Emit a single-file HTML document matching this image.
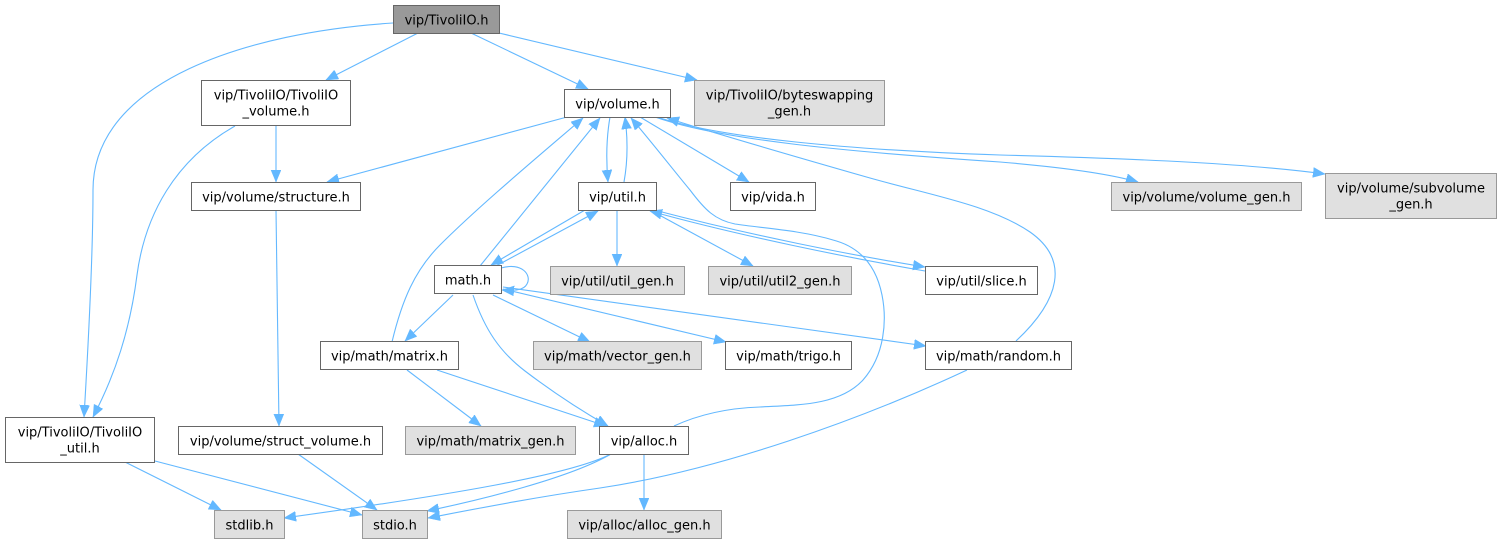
<!DOCTYPE html>
<html>
<head>
<meta charset="utf-8">
<style>
html,body{margin:0;padding:0;background:#fff;}
svg{display:block;}
text{font-family:"DejaVu Sans","Liberation Sans",sans-serif;font-size:13px;fill:#000;text-anchor:middle;}
.n{fill:#fff;stroke:#666;stroke-width:1;}
.g{fill:#e0e0e0;stroke:#999;stroke-width:1;}
.r{fill:#999;stroke:#666;stroke-width:1;}
.e{fill:none;stroke:#63b8ff;stroke-width:1.1;marker-end:url(#ah);}
</style>
</head>
<body>
<svg width="1501" height="543" viewBox="0 0 1501 543" xmlns="http://www.w3.org/2000/svg">
<defs>
<marker id="ah" markerUnits="userSpaceOnUse" markerWidth="14" markerHeight="12" refX="12" refY="5" orient="auto">
<path d="M0,0 L12,5 L0,10 z" fill="#63b8ff" stroke="#63b8ff" stroke-width="0.5"/>
</marker>
</defs>
<rect x="0" y="0" width="1501" height="543" fill="#fff"/>

<!-- edges -->
<path class="e" d="M418,33 L326,80"/>
<path class="e" d="M393,23 C250,32 93,80 93,190 C93,260 88,350 84,417"/>
<path class="e" d="M471,33 L588,89"/>
<path class="e" d="M499,33 L697,80"/>
<path class="e" d="M276,126 L276,182"/>
<path class="e" d="M235,126 C175,160 145,215 137,275 C130,330 115,375 93,417"/>
<path class="e" d="M276,210 L279,426"/>
<path class="e" d="M298,454 L377,510"/>
<path class="e" d="M125,462 L221,510"/>
<path class="e" d="M155,461 L362,515"/>
<path class="e" d="M567,117 L327,182"/>
<path class="e" d="M610,117 C606,140 606,160 608,182"/>
<path class="e" d="M624,182 C628,160 628,140 625,117"/>
<path class="e" d="M640,117 L749,182"/>
<path class="e" d="M655,117 C720,140 850,152 1000,162 C1060,167 1110,174 1138,182"/>
<path class="e" d="M657,117 C720,138 850,150 1000,155 C1150,159 1250,164 1325,174"/>
<path class="e" d="M1016,341 C1060,300 1070,260 1030,232 C990,205 930,195 870,178 C800,158 720,135 667,118"/>
<path class="e" d="M674,426 C700,414 730,408 760,407 C800,405 840,405 863,380 C885,355 887,320 882,295 C876,265 860,247 833,240 C800,230 760,228 735,224 C715,220 705,210 690,190 C675,172 650,140 631,118"/>
<path class="e" d="M392,342 C402,300 415,270 440,245 C480,205 540,155 583,118"/>
<path class="e" d="M480,266 L600,118"/>
<path class="e" d="M585,210 L491,265"/>
<path class="e" d="M496,266 L598,211"/>
<path class="e" d="M501,268 C522,262 532,275 527,284 C524,290 515,291 502,290"/>
<path class="e" d="M453,295 L405,341"/>
<path class="e" d="M473,295 C485,330 500,352 525,371 C550,390 580,410 608,426"/>
<path class="e" d="M437,370 L606,426"/>
<path class="e" d="M407,370 L481,426"/>
<path class="e" d="M493,295 L590,342"/>
<path class="e" d="M503,289 L726,342"/>
<path class="e" d="M503,287 L926,346"/>
<path class="e" d="M617,210 L617,266"/>
<path class="e" d="M650,210 L753,266"/>
<path class="e" d="M658,211 C750,235 850,255 925,267"/>
<path class="e" d="M925,271 C850,258 740,236 650,211"/>
<path class="e" d="M644,454 L644,510"/>
<path class="e" d="M611,454 C570,475 450,495 284,518"/>
<path class="e" d="M611,454 C570,478 480,500 427,511"/>
<path class="e" d="M967,370 C860,420 720,470 600,488 C530,498 470,510 428,518"/>

<!-- nodes -->
<rect class="r" x="393.5" y="5.5" width="106" height="28"/>
<text x="446.5" y="24.5">vip/TivoliIO.h</text>

<rect class="n" x="201.5" y="80.5" width="149" height="45"/>
<text x="276" y="99.5">vip/TivoliIO/TivoliIO</text>
<text x="276" y="115.5">_volume.h</text>

<rect class="n" x="564.5" y="89.5" width="106" height="28"/>
<text x="617.5" y="108.5">vip/volume.h</text>

<rect class="g" x="694.5" y="80.5" width="190" height="45"/>
<text x="789.5" y="99.5">vip/TivoliIO/byteswapping</text>
<text x="789.5" y="115.5">_gen.h</text>

<rect class="n" x="191.5" y="182.5" width="169" height="28"/>
<text x="276" y="201.5">vip/volume/structure.h</text>

<rect class="n" x="578.5" y="182.5" width="78" height="28"/>
<text x="617.5" y="201.5">vip/util.h</text>

<rect class="n" x="730.5" y="182.5" width="85" height="28"/>
<text x="773" y="201.5">vip/vida.h</text>

<rect class="g" x="1111.5" y="182.5" width="190" height="28"/>
<text x="1206.5" y="201.5">vip/volume/volume_gen.h</text>

<rect class="g" x="1325.5" y="173.5" width="171" height="45"/>
<text x="1411" y="192.5">vip/volume/subvolume</text>
<text x="1411" y="208.5">_gen.h</text>

<rect class="n" x="434.5" y="265.5" width="67" height="28"/>
<text x="468" y="284.5">math.h</text>

<rect class="g" x="550.5" y="266.5" width="134" height="28"/>
<text x="617.5" y="285.5">vip/util/util_gen.h</text>

<rect class="g" x="708.5" y="266.5" width="143" height="28"/>
<text x="780" y="285.5">vip/util/util2_gen.h</text>

<rect class="n" x="925.5" y="266.5" width="112" height="28"/>
<text x="981.5" y="285.5">vip/util/slice.h</text>

<rect class="n" x="320.5" y="341.5" width="138" height="28"/>
<text x="389.5" y="360.5">vip/math/matrix.h</text>

<rect class="g" x="533.5" y="341.5" width="168" height="28"/>
<text x="617.5" y="360.5">vip/math/vector_gen.h</text>

<rect class="n" x="725.5" y="341.5" width="126" height="28"/>
<text x="788.5" y="360.5">vip/math/trigo.h</text>

<rect class="n" x="925.5" y="341.5" width="146" height="28"/>
<text x="998.5" y="360.5">vip/math/random.h</text>

<rect class="n" x="5.5" y="417.5" width="149" height="45"/>
<text x="80" y="436.5">vip/TivoliIO/TivoliIO</text>
<text x="80" y="452.5">_util.h</text>

<rect class="n" x="178.5" y="426.5" width="204" height="28"/>
<text x="280.5" y="445.5">vip/volume/struct_volume.h</text>

<rect class="g" x="405.5" y="426.5" width="170" height="28"/>
<text x="490.5" y="445.5">vip/math/matrix_gen.h</text>

<rect class="n" x="599.5" y="426.5" width="89" height="28"/>
<text x="644" y="445.5">vip/alloc.h</text>

<rect class="g" x="214.5" y="510.5" width="70" height="28"/>
<text x="249.5" y="529.5">stdlib.h</text>

<rect class="g" x="362.5" y="510.5" width="65" height="28"/>
<text x="395" y="529.5">stdio.h</text>

<rect class="g" x="567.5" y="510.5" width="154" height="28"/>
<text x="644.5" y="529.5">vip/alloc/alloc_gen.h</text>
</svg>
</body>
</html>
